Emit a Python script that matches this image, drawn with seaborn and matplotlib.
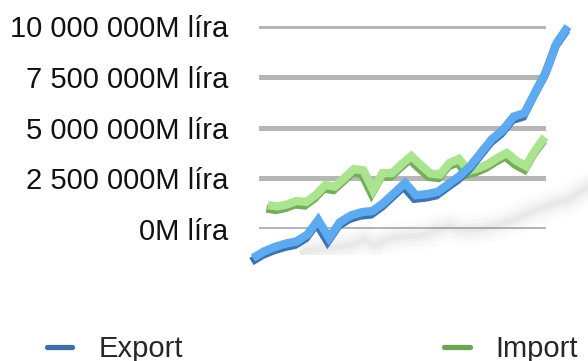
import matplotlib
matplotlib.use("Agg")
import matplotlib.pyplot as plt
from matplotlib.lines import Line2D
from matplotlib.transforms import offset_copy
import seaborn as sns

# Foreign trade, in million lira, one value per period
periods = list(range(1, 31))
export_vals = [310_000, 600_000, 800_000, 950_000, 1_050_000, 1_350_000,
               2_000_000, 1_200_000, 1_900_000, 2_200_000, 2_350_000, 2_400_000,
               2_750_000, 3_200_000, 3_650_000, 3_100_000, 3_150_000, 3_250_000,
               3_600_000, 3_950_000, 4_400_000, 5_000_000, 5_600_000, 6_000_000,
               6_600_000, 6_750_000, 7_700_000, 8_600_000, 9_900_000, 10_600_000]
import_vals = [1_510_000, 1_440_000, 1_540_000, 1_710_000, 1_660_000, 2_000_000,
               2_490_000, 2_410_000, 2_830_000, 3_270_000, 3_200_000, 2_240_000,
               3_070_000, 3_070_000, 3_510_000, 3_900_000, 3_460_000, 3_050_000,
               3_000_000, 3_560_000, 3_760_000, 3_170_000, 3_300_000, 3_500_000,
               3_800_000, 4_050_000, 3_660_000, 3_410_000, 4_200_000, 4_830_000]
tick_vals = [0, 2_500_000, 5_000_000, 7_500_000, 10_000_000]
tick_labels = [f"{v:,}".replace(",", " ") + "M líra" for v in tick_vals]
series_names = ["Export", "Import"]

sns.set_theme(style="white")
plt.rcParams["font.family"] = ["Liberation Sans", "DejaVu Sans"]

W, H = 588, 361
fig = plt.figure(figsize=(W / 100, H / 100), dpi=100)
fig.patch.set_facecolor("white")


def px_axes(left, right, top, bottom):
    ax = fig.add_axes([left / W, 1 - bottom / H, (right - left) / W, (bottom - top) / H])
    ax.patch.set_alpha(0)
    return ax


def bare(ax, n):
    ax.set_xlim(0, n - 1)
    ax.set_ylim(0, 10_000_000)
    ax.set_axis_off()


# back wall with the value grid
wall = px_axes(259, 546, 26, 229)
wall.set_xlim(0, 1)
wall.set_ylim(0, 10_000_000)
wall.set_xticks([])
wall.set_yticks(tick_vals)
wall.set_yticklabels(tick_labels, fontsize=21, color="#111111")
wall.tick_params(axis="y", length=0, pad=22)
wall.yaxis.grid(True, color="#b6b6b6", linewidth=3.6)
sns.despine(ax=wall, left=True, bottom=True)

x_idx = list(range(len(periods)))

# soft floor shadow cast by the front series
floor = px_axes(300, 610, 175, 255)
bare(floor, len(periods))
for lw, a in [(22, 0.025), (15, 0.035), (9, 0.045), (4, 0.05)]:
    sns.lineplot(x=x_idx, y=export_vals, ax=floor, color="#707070", linewidth=lw,
                 alpha=a, estimator=None, sort=False, legend=False)
for ln in floor.lines:
    ln.set_solid_capstyle("round")
    ln.set_solid_joinstyle("round")


def ribbon(ax, values, top, side):
    sns.lineplot(x=x_idx, y=values, ax=ax, color=side, linewidth=6,
                 estimator=None, sort=False, legend=False)
    ax.lines[-1].set_transform(offset_copy(ax.transData, fig=fig, x=-1.5, y=-3.5, units="dots"))
    sns.lineplot(x=x_idx, y=values, ax=ax, color=top, linewidth=6,
                 estimator=None, sort=False, legend=False)
    for ln in ax.lines:
        ln.set_solid_joinstyle("miter")
        ln.set_solid_capstyle("butt")
        ln.set_clip_on(False)


# rear series
ax_imp = px_axes(268, 545, 31, 236)
bare(ax_imp, len(periods))
ribbon(ax_imp, import_vals, "#abe48e", "#76ad5c")

# front series
ax_exp = px_axes(253, 568, 40, 265)
bare(ax_exp, len(periods))
ribbon(ax_exp, export_vals, "#5eaaf0", "#3a74b2")

handles = [Line2D([], [], color="#3d6fa6", linewidth=3.8),
           Line2D([], [], color="#6aa653", linewidth=3.8)]
fig.legend(handles=handles, labels=series_names, loc="center left",
           bbox_to_anchor=(47 / W, 1 - 349 / H), ncol=2, frameon=False,
           handlelength=0.86, handletextpad=0.9, columnspacing=8.97,
           borderpad=0, borderaxespad=0, fontsize=21)

fig.savefig("out.png", dpi=100, facecolor="white")
